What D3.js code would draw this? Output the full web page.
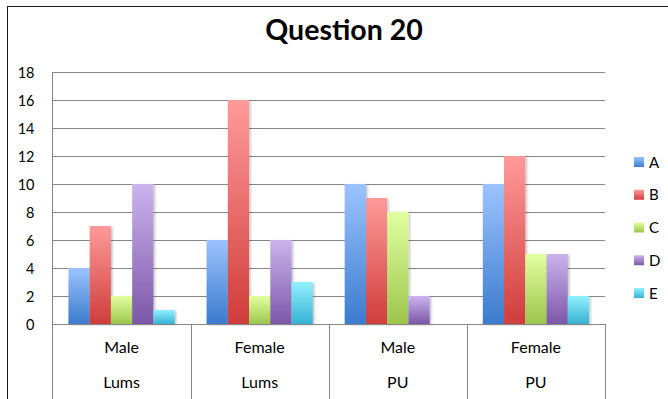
<!DOCTYPE html>
<html>
<head>
<meta charset="utf-8">
<script src="https://cdn.jsdelivr.net/npm/d3@7"></script>
<style>
  html, body { margin: 0; padding: 0; background: #fff; }
  svg { display: block; }
  text { font-family: Lato, "Open Sans", "Liberation Sans", sans-serif; fill: #000; }
</style>
</head>
<body>
<svg id="chart" width="668" height="399"></svg>
<script>
// Survey answers per respondent group
const categories = ["Male|Lums", "Female|Lums", "Male|PU", "Female|PU"];
const genders = ["Male", "Female", "Male", "Female"];
const institutes = ["Lums", "Lums", "PU", "PU"];
const seriesNames = ["A", "B", "C", "D", "E"];
const valuesA = [4, 6, 10, 10];
const valuesB = [7, 16, 9, 12];
const valuesC = [2, 2, 8, 5];
const valuesD = [10, 6, 2, 5];
const valuesE = [1, 3, 0, 2];
const yTicks = [0, 2, 4, 6, 8, 10, 12, 14, 16, 18];
const titleText = "Question 20";

const seriesValues = [valuesA, valuesB, valuesC, valuesD, valuesE];
// light (top) and dark (bottom) gradient stops per series
const palette = [
  ["#9cc3ff", "#3b7bcd"],
  ["#ff9a9a", "#cf3d3b"],
  ["#e2ffa0", "#9dc64c"],
  ["#cbb4ee", "#7c57a8"],
  ["#92f0ff", "#36b2d3"]
];

const svg = d3.select("#chart");
const W = 668, H = 399;
const plot = { left: 52.5, right: 605, top: 72, bottom: 324 };

// gradients
const defs = svg.append("defs");
palette.forEach((c, i) => {
  const g = defs.append("linearGradient")
    .attr("id", "grad" + i)
    .attr("x1", 0).attr("y1", 0).attr("x2", 0).attr("y2", 1);
  g.append("stop").attr("offset", "0%").attr("stop-color", c[0]);
  g.append("stop").attr("offset", "100%").attr("stop-color", c[1]);
});
const shadow = defs.append("filter").attr("id", "shadow")
  .attr("x", "-20%").attr("y", "-5%").attr("width", "150%").attr("height", "115%");
shadow.append("feDropShadow")
  .attr("dx", 1.5).attr("dy", 1).attr("stdDeviation", 1.2)
  .attr("flood-color", "#000").attr("flood-opacity", 0.25);

// outer chart frame
svg.append("rect")
  .attr("x", 7.5).attr("y", 6.5)
  .attr("width", W + 10).attr("height", H + 10)
  .attr("fill", "#fff").attr("stroke", "#1a1a1a").attr("stroke-width", 1);

// title
svg.append("text")
  .attr("x", 344).attr("y", 39.5)
  .attr("text-anchor", "middle")
  .style("font-size", "28.5px").style("font-weight", "bold")
  .text(titleText);

const x0 = d3.scaleBand().domain(categories).range([plot.left, plot.right]).padding(0);
const x1 = d3.scaleBand().domain(seriesNames)
  .range([0, x0.bandwidth()]).paddingInner(0).paddingOuter(0.75);
const y = d3.scaleLinear().domain([0, 18]).range([plot.bottom, plot.top]);

// horizontal gridlines
svg.append("g")
  .selectAll("line").data(yTicks).join("line")
  .attr("x1", plot.left).attr("x2", plot.right)
  .attr("y1", d => Math.round(y(d)) + 0.5).attr("y2", d => Math.round(y(d)) + 0.5)
  .attr("stroke", "#868686").attr("stroke-width", 1);

// y axis labels
const yAxis = d3.axisLeft(y).tickValues(yTicks).tickSize(0).tickPadding(18);
const gy = svg.append("g").attr("transform", `translate(${plot.left},1)`).call(yAxis);
gy.select(".domain").remove();
gy.selectAll("text").style("font-size", "14.5px").style("font-family", "Lato, sans-serif").attr("fill", "#000");

// bars
const groups = svg.append("g").selectAll("g").data(categories).join("g")
  .attr("transform", d => `translate(${x0(d)},0)`);
groups.selectAll("rect")
  .data((d, ci) => seriesNames.map((s, si) => ({ s, si, v: seriesValues[si][ci] })))
  .join("rect")
  .filter(d => d.v > 0)
  .attr("x", d => x1(d.s))
  .attr("width", x1.bandwidth())
  .attr("y", d => y(d.v))
  .attr("height", d => y(0) - y(d.v))
  .attr("fill", d => `url(#grad${d.si})`)
  .attr("filter", "url(#shadow)");

// category axis: baseline and dividers through both label rows
const axisG = svg.append("g");
axisG.append("line")
  .attr("x1", plot.left).attr("x2", plot.right)
  .attr("y1", plot.bottom + 0.5).attr("y2", plot.bottom + 0.5)
  .attr("stroke", "#868686");
axisG.append("line")
  .attr("x1", plot.left).attr("x2", plot.left)
  .attr("y1", plot.top).attr("y2", H)
  .attr("stroke", "#868686");
const bounds = categories.map(c => x0(c)).concat([plot.right]);
axisG.selectAll("line.div").data(bounds.slice(1)).join("line")
  .attr("class", "div")
  .attr("x1", d => Math.round(d) + 0.5).attr("x2", d => Math.round(d) + 0.5)
  .attr("y1", plot.bottom).attr("y2", H)
  .attr("stroke", "#868686");

axisG.selectAll("text.g").data(categories).join("text")
  .attr("class", "g")
  .attr("x", d => x0(d) + x0.bandwidth() / 2)
  .attr("y", 353)
  .attr("text-anchor", "middle")
  .style("font-size", "16px")
  .text((d, i) => genders[i]);
axisG.selectAll("text.i").data(categories).join("text")
  .attr("class", "i")
  .attr("x", d => x0(d) + x0.bandwidth() / 2)
  .attr("y", 388)
  .attr("text-anchor", "middle")
  .style("font-size", "16px")
  .text((d, i) => institutes[i]);

// legend
const legY = d3.scalePoint().domain(seriesNames).range([162, 293]);
const leg = svg.append("g").selectAll("g").data(seriesNames).join("g")
  .attr("transform", d => `translate(634,${legY(d)})`);
leg.append("rect")
  .attr("x", 0).attr("y", -5).attr("width", 10).attr("height", 10)
  .attr("fill", (d, i) => `url(#grad${i})`);
leg.append("text")
  .attr("x", 15).attr("y", 5.5)
  .style("font-size", "15px")
  .text(d => d);
</script>
</body>
</html>
